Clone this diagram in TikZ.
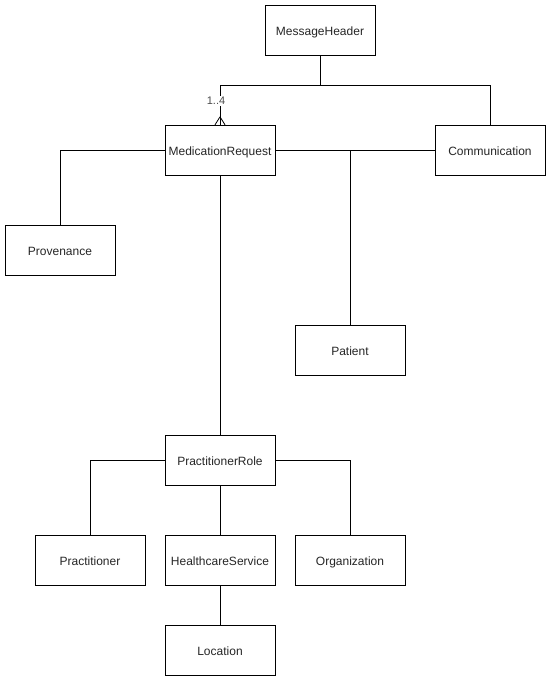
\documentclass[tikz,border=0pt]{standalone}
\usepackage{fontspec}
\setmainfont{Liberation Sans}
\begin{document}
\begin{tikzpicture}[x=1pt,y=-1pt,
    entity/.style={draw,fill=white,minimum width=110pt,minimum height=50pt,
      inner sep=0pt,text height=12pt,text depth=2pt,
      text=black!85,font=\fontsize{12}{14}\selectfont},
    link/.style={draw,line width=0.8pt}]
      \useasboundingbox (0,0) rectangle (551,681);

      % boxes
      \node[entity] (header) at (320,30) {MessageHeader};
      \node[entity] (request) at (220,150) {MedicationRequest};
      \node[entity] (comm) at (490,150) {Communication};
      \node[entity] (prov) at (60,250) {Provenance};
      \node[entity] (patient) at (350,350) {Patient};
      \node[entity] (role) at (220,460) {PractitionerRole};
      \node[entity] (pract) at (90,560) {Practitioner};
      \node[entity] (service) at (220,560) {HealthcareService};
      \node[entity] (org) at (350,560) {Organization};
      \node[entity] (loc) at (220,650) {Location};

      \coordinate (split) at (320,85);
      \coordinate (fork) at (350,150);

    \path[link] (header.south) -- (split) -| (request.north)
    (split) -| (comm.north)
    (request.west) -| (prov.north)
    (request.east) -- (comm.west)
    (fork) -- (patient.north)
    (request.south) -- (role.north)
    (role.west) -| (pract.north)
    (role.south) -- (service.north)
    (role.east) -| (org.north)
    (service.south) -- (loc.north);

    % crow's foot
    \node[fill=white,inner sep=1pt,text=black!70,font=\fontsize{11}{12}\selectfont]
      (mult) at (216,101) {1..4};
    \path[link] ([yshift=8pt]request.north) -- ([xshift=-5pt]request.north)
    ([yshift=8pt]request.north) -- ([xshift=5pt]request.north);
    \end{tikzpicture}
\end{document}
